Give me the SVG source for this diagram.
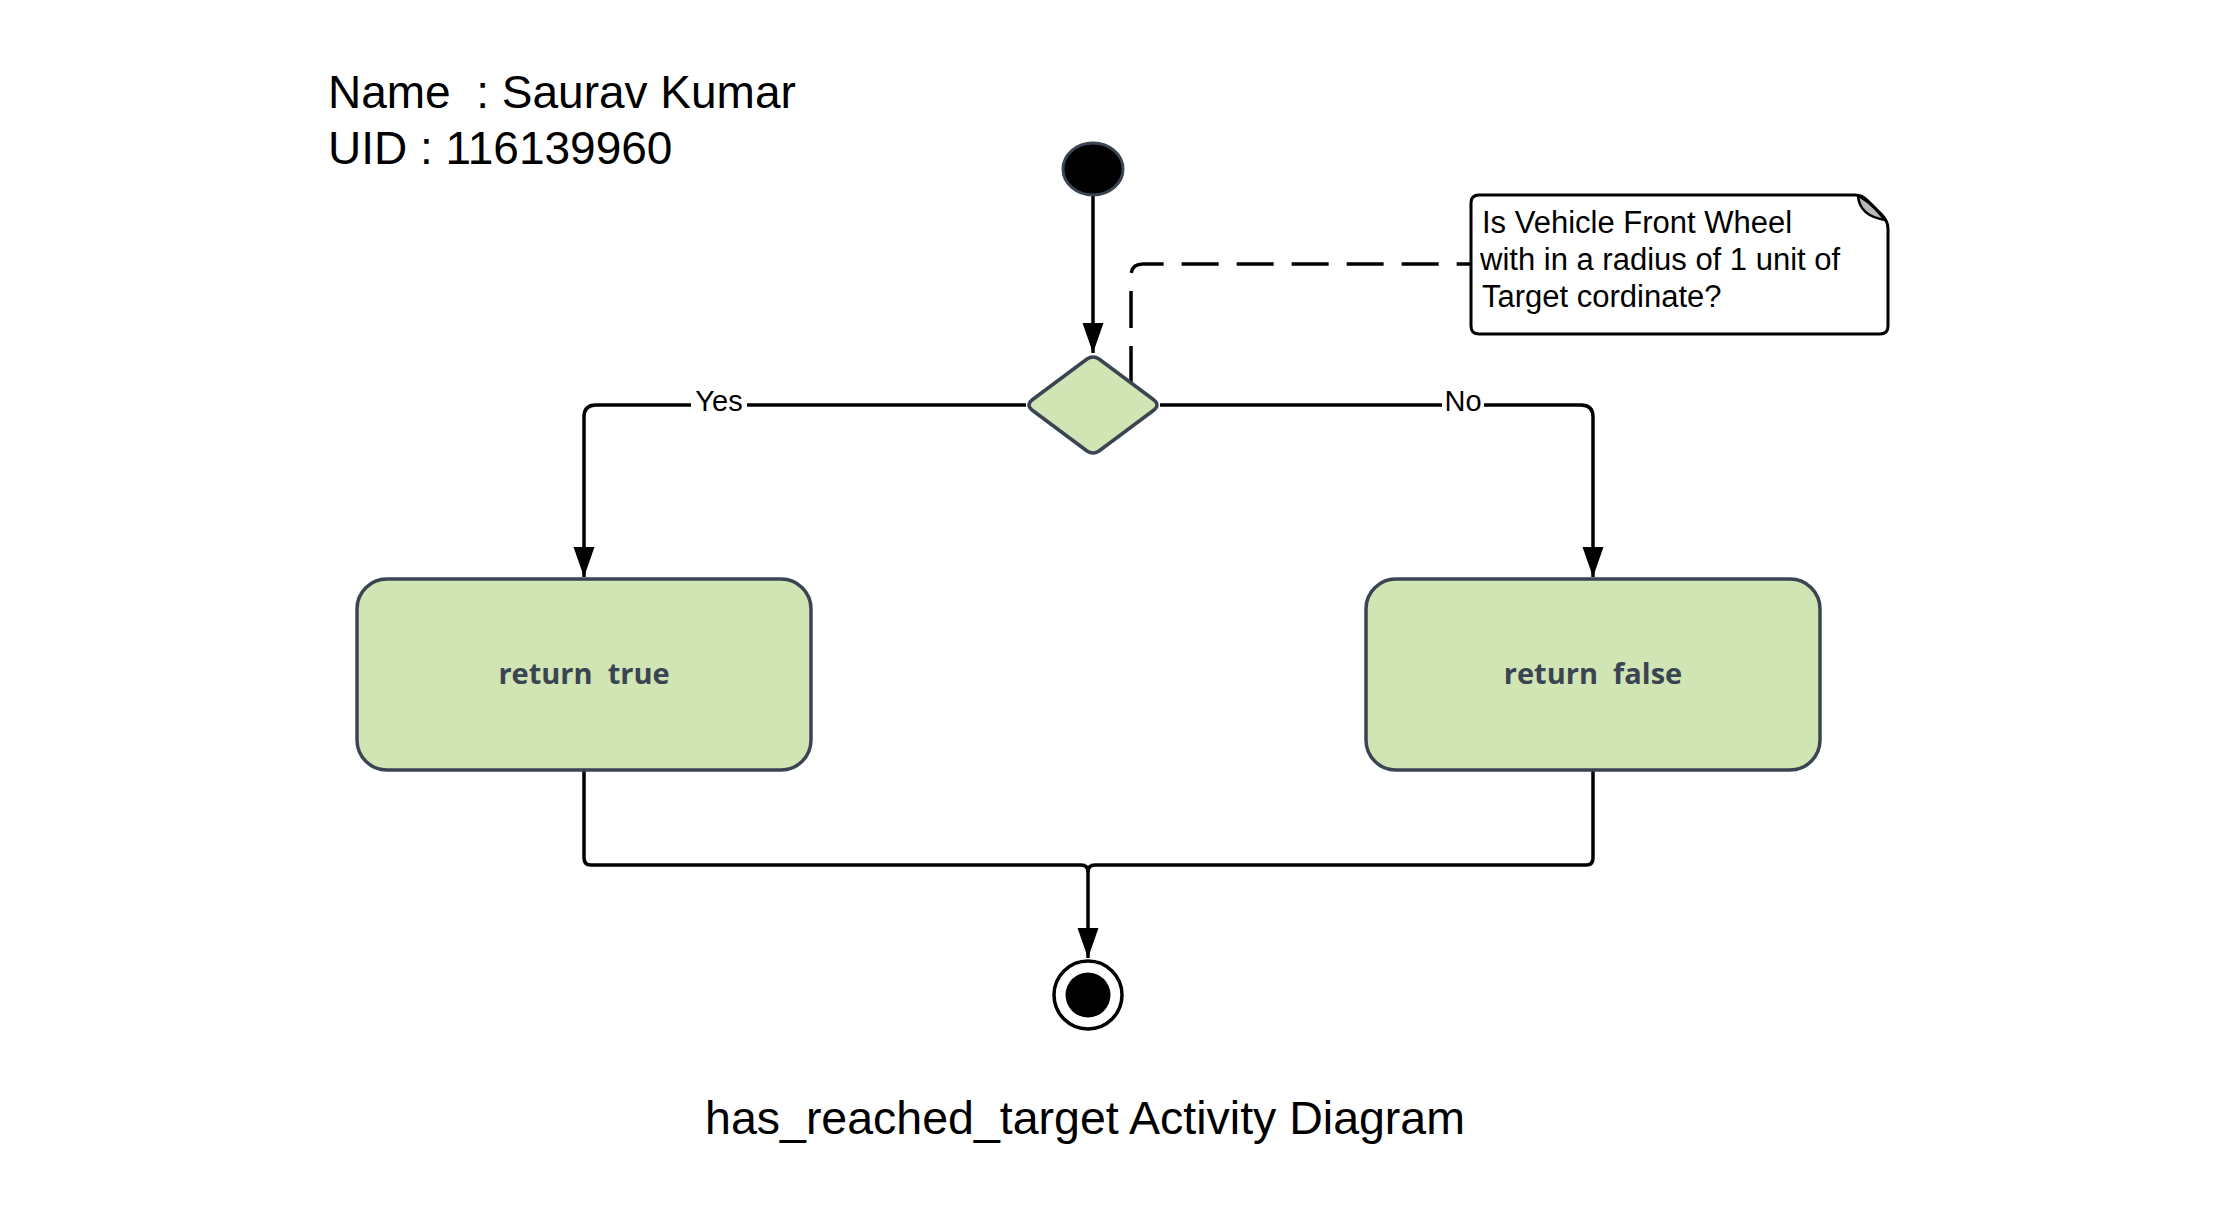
<svg xmlns="http://www.w3.org/2000/svg" width="2217" height="1209" viewBox="0 0 2217 1209">
  <style>
    .txt { font-family: "Liberation Sans", Arial, sans-serif; fill: #000; }
    .head { font-size: 46px; white-space: pre; }
    .note { font-size: 31px; }
    .lbl { font-size: 29px; text-anchor: middle; }
    .act { fill: #d1e4b3; stroke: #3a4452; stroke-width: 3.5; }
    .actlbl { font-family: "Open Sans", "Noto Sans", sans-serif; font-weight: 700; font-size: 29px; fill: #3a4452; text-anchor: middle; white-space: pre; }
    .conn { fill: none; stroke: #000; stroke-width: 3.5; }
    .dash { fill: none; stroke: #000; stroke-width: 3.5; stroke-dasharray: 37 18; }
  </style>
  <defs>
    <marker id="arrow" markerUnits="userSpaceOnUse" markerWidth="32" markerHeight="22" refX="30" refY="10.5" orient="auto">
      <path d="M0,0 L30,10.5 L0,21 Z" fill="#000"/>
    </marker>
  </defs>
  <rect width="2217" height="1209" fill="#fff"/>

  <g id="header">
    <text class="txt head" x="328" y="108">Name  : Saurav Kumar</text>
    <text class="txt head" x="328" y="164">UID : 116139960</text>
  </g>

  <g id="connectors">
    <path class="conn" d="M1093,195 V353" marker-end="url(#arrow)"/>
    <path class="conn" d="M1026,405 H596 Q584,405 584,417 V577" marker-end="url(#arrow)"/>
    <path class="conn" d="M1160,405 H1581 Q1593,405 1593,417 V577" marker-end="url(#arrow)"/>
    <path class="dash" d="M1131,383 V276 Q1131,264 1143,264 H1471"/>
    <path class="conn" d="M584,770 V858 Q584,865 591,865 H1081 Q1088,865 1088,872"/>
    <path class="conn" d="M1593,770 V858 Q1593,865 1586,865 H1095 Q1088,865 1088,872"/>
    <path class="conn" d="M1088,868 V958" marker-end="url(#arrow)"/>
    <rect x="691" y="388" width="56" height="28" fill="#fff"/>
    <text class="txt lbl" x="719" y="411">Yes</text>
    <rect x="1442" y="388" width="42" height="28" fill="#fff"/>
    <text class="txt lbl" x="1463" y="411">No</text>
  </g>

  <g id="start">
    <ellipse cx="1093" cy="169" rx="30" ry="26" fill="#000" stroke="#3a4452" stroke-width="3"/>
  </g>

  <g id="decision">
    <path d="M1087,359 Q1093,355 1099,359 L1154,400 Q1160,405 1154,410 L1099,451 Q1093,455 1087,451 L1032,410 Q1026,405 1032,400 Z" fill="#d1e4b3" stroke="#3a4452" stroke-width="3.5" stroke-linejoin="round"/>
  </g>

  <g id="note">
    <path d="M1479,195 H1855 Q1862,195 1868,201 L1882,215 Q1888,221 1888,229 V326 Q1888,334 1880,334 H1479 Q1471,334 1471,326 V203 Q1471,195 1479,195 Z" fill="#fff" stroke="#000" stroke-width="3"/>
    <path d="M1858,196 C1859,209 1867,217 1885,220 C1877,210 1868,200 1858,196 Z" fill="#b8b8b8" stroke="#000" stroke-width="2.5"/>
    <text class="txt note" x="1482" y="233">Is Vehicle Front Wheel</text>
    <text class="txt note" x="1480" y="270">with in a radius of 1 unit of</text>
    <text class="txt note" x="1482" y="307">Target cordinate?</text>
  </g>

  <g id="return-true">
    <rect class="act" x="357" y="579" width="454" height="191" rx="30" ry="30"/>
    <text class="actlbl" x="584" y="684">return  true</text>
  </g>

  <g id="return-false">
    <rect class="act" x="1366" y="579" width="454" height="191" rx="30" ry="30"/>
    <text class="actlbl" x="1593" y="684">return  false</text>
  </g>

  <g id="end">
    <circle cx="1088" cy="995" r="34" fill="#fff" stroke="#000" stroke-width="3.5"/>
    <circle cx="1088" cy="995" r="22.5" fill="#000"/>
  </g>

  <g id="caption">
    <text class="txt" x="1085" y="1134" font-size="46.5" text-anchor="middle">has_reached_target Activity Diagram</text>
  </g>
</svg>
